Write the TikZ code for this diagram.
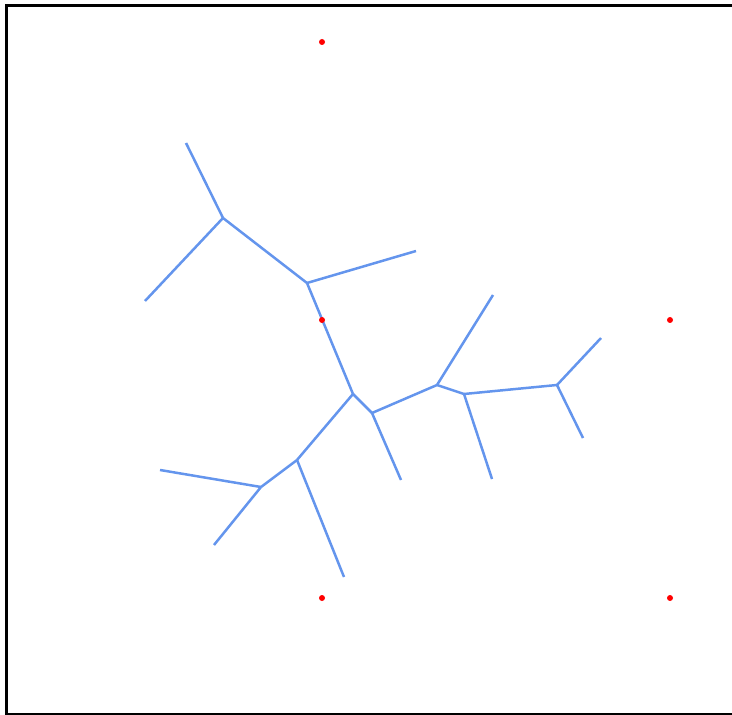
\documentclass[tikz,border=0pt]{standalone}
\begin{document}
\begin{tikzpicture}[x=0.5pt,y=-0.5pt]
    \useasboundingbox (0,0) rectangle (732,715);
    \tikzset{edge/.style={line width=1.25pt,color={rgb,255:red,100;green,149;blue,237}},
      site/.style={circle,fill=red,inner sep=0pt,minimum size=3pt}}
    % frame
    \draw[line width=1.5pt] (760,5.5) -- (6,5.5) -- (6,714) -- (760,714);
    % vertices
    \coordinate (a) at (223,218);
    \coordinate (b) at (307,283);
    \coordinate (c) at (353,394);
    \coordinate (d) at (297,460);
    \coordinate (e) at (261,487);
    \coordinate (f) at (372,413);
    \coordinate (g) at (437,385);
    \coordinate (h) at (464,394);
    \coordinate (i) at (557,385);
    % open ends
    \coordinate (a1) at (186,143);
    \coordinate (a2) at (145,301);
    \coordinate (b1) at (416,251);
    \coordinate (d1) at (344,577);
    \coordinate (e1) at (160,470);
    \coordinate (e2) at (214,545);
    \coordinate (f1) at (401,480);
    \coordinate (g1) at (493,295);
    \coordinate (h1) at (492,479);
    \coordinate (i1) at (601,338);
    \coordinate (i2) at (583,438);
    % edges
    \foreach \u/\v in {a/b, b/c, c/d, d/e, c/f, f/g, g/h, h/i,
      a/a1, a/a2, b/b1, d/d1, e/e1, e/e2, f/f1, g/g1, h/h1, i/i1, i/i2}{%
      \draw[edge] (\u) -- (\v);}
    % sites
    \foreach \n/\xx/\yy in {s1/322/42, s2/322/320, s3/670/320, s4/322/598, s5/670/598}{%
      \node[site] (\n) at (\xx,\yy) {};}
\end{tikzpicture}
\end{document}
